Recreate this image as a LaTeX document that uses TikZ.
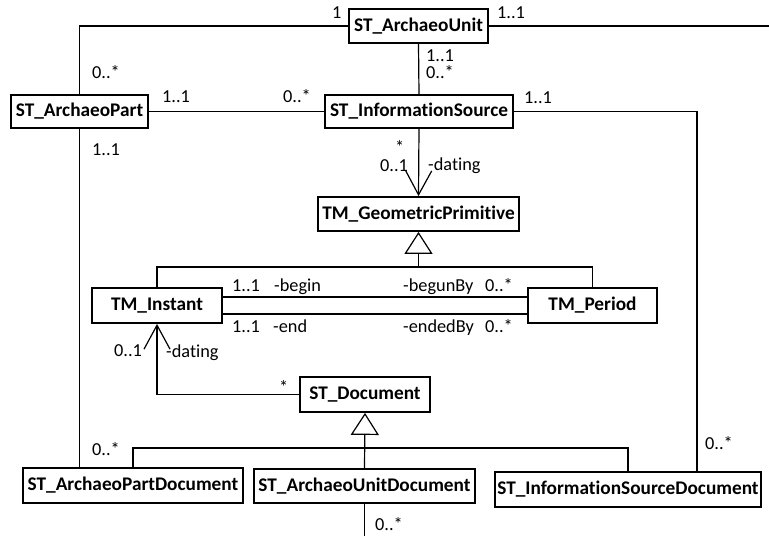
\documentclass[tikz,border=0pt]{standalone}
\usepackage{fontspec}
\setmainfont{Carlito}[Ligatures=NoCommon]
\usetikzlibrary{arrows.meta}
\begin{document}
\begin{tikzpicture}[x=1pt,y=-1pt,
  cls/.style={draw, line width=1.8pt, inner sep=0pt, font=\fontsize{19.3}{21}\selectfont\bfseries},
  lbl/.style={inner sep=0pt, anchor=base west, font=\fontsize{18.3}{20}\selectfont},
  conn/.style={line width=1.2pt},
  nav/.style={conn, -{Straight Barb[length=24pt,width=26pt,line width=1.2pt]}},
  gen/.style={conn, -{Triangle[open,length=22pt,width=28pt,line width=1.2pt,fill=white]}}]
\useasboundingbox (0,0) rectangle (769,536);
% classes
\node[cls, minimum width=139pt, minimum height=34pt] (au)  at (418.5,26)   {ST\_ArchaeoUnit};
\node[cls, minimum width=137pt, minimum height=33pt] (ap)  at (79.5,111.5) {ST\_ArchaeoPart};
\node[cls, minimum width=188pt, minimum height=33pt] (is)  at (419,111.5)  {ST\_InformationSource};
\node[cls, minimum width=201pt, minimum height=34pt] (gp)  at (418.5,214)  {TM\_GeometricPrimitive};
\node[cls, minimum width=130pt, minimum height=35pt] (ti)  at (157,305.5)  {TM\_Instant};
\node[cls, minimum width=129pt, minimum height=35pt] (tp)  at (592.5,305.5){TM\_Period};
\node[cls, minimum width=130pt, minimum height=35pt] (sd)  at (365,394.5)  {ST\_Document};
\node[cls, minimum width=220pt, minimum height=35pt] (apd) at (133,485.5)  {ST\_ArchaeoPartDocument};
\node[cls, minimum width=221pt, minimum height=34pt] (aud) at (364.5,486)  {ST\_ArchaeoUnitDocument};
\node[cls, minimum width=266pt, minimum height=35pt] (isd) at (628,489.5)  {ST\_InformationSourceDocument};
% helper coordinates
\coordinate (rend) at (769,26);
\coordinate (isx) at (697,0);
\coordinate (g1) at (418.5,267);
\coordinate (g2) at (365,448);
\coordinate (bend) at (364.5,536);
% associations
\draw[conn] (au.west) -| (ap.north);
\draw[conn] (au.east) -- (rend);
\draw[conn] (au.south) -- (is.north);
\draw[conn] (ap.east) -- (is.west);
\draw[conn] (ap.south) -- (ap.south |- apd.north);
\draw[conn] (is.east) -| (isx |- isd.north);
\draw[nav] (is.south) -- (gp.north);
\draw[conn] ([yshift=8.5pt]ti.east) -- ([yshift=8.5pt]tp.west);
\draw[conn] ([yshift=-8.5pt]ti.east) -- ([yshift=-8.5pt]tp.west);
\draw[nav] (sd.west) -| (ti.south);
\draw[conn] (aud.south) -- (bend);
% generalizations
\draw[conn] (ti.north) |- (g1) -| (tp.north);
\draw[gen] (g1) -- (gp.south);
\draw[conn] (apd.north) |- (g2) -| (isd.north);
\draw[gen] (aud.north) -- (sd.south);
% labels
\node[lbl] (l1)  at (332,18)  {1};
\node[lbl] (l2)  at (497,18)  {1..1};
\node[lbl] (l3)  at (92,78)   {0..*};
\node[lbl] (l4)  at (426,61)  {1..1};
\node[lbl] (l5)  at (426,78)  {0..*};
\node[lbl] (l6)  at (162,102) {1..1};
\node[lbl] (l7)  at (283,102) {0..*};
\node[lbl] (l8)  at (524,103) {1..1};
\node[lbl] (l9)  at (92,155)  {1..1};
\node[lbl] (l10) at (395,153) {*};
\node[lbl] (l11) at (380,171) {0..1};
\node[lbl] (l12) at (428,170) {-dating};
\node[lbl] (l13) at (232,291) {1..1};
\node[lbl] (l14) at (274,291) {-begin};
\node[lbl] (l15) at (403,291) {-begunBy};
\node[lbl] (l16) at (485,291) {0..*};
\node[lbl] (l17) at (232,332) {1..1};
\node[lbl] (l18) at (273,332) {-end};
\node[lbl] (l19) at (403,332) {-endedBy};
\node[lbl] (l20) at (485,332) {0..*};
\node[lbl] (l21) at (114,356) {0..1};
\node[lbl] (l22) at (166,357) {-dating};
\node[lbl] (l23) at (279,393) {*};
\node[lbl] (l24) at (92,455)  {0..*};
\node[lbl] (l25) at (705,449) {0..*};
\node[lbl] (l26) at (375,530) {0..*};
\end{tikzpicture}
\end{document}
